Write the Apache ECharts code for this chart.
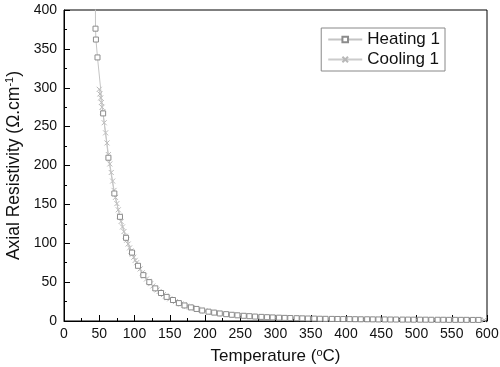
<!DOCTYPE html>
<html><head><meta charset="utf-8">
<script src="https://cdn.jsdelivr.net/npm/echarts@6/dist/echarts.min.js"></script>
<style>html,body{margin:0;padding:0;background:#fff}#c{width:500px;height:367px}</style>
</head><body><div id="c"></div>
<script>
const xTicks = [0,50,100,150,200,250,300,350,400,450,500,550,600];
const yTicks = [0,50,100,150,200,250,300,350,400];
const heatingT = [44.4,44.7,45.3,47.5,55.5,63,71.4,79.4,88,96.5,105,112.5,121,129.5,137.6,145.6,154.6,163,171,180,188,196,205,213,221,230,238,246,255,263,271,280,288,296,305,313,321,330,338,346,355,363,371,380,388,396,405,413,421,430,438,446,455,463,471,480,488,496,505,513,521,530,538,546,555,563,571,580,588];
const heatingR = [430,376,362,339,267,210,164,134,107,88,71,59,50,42,36,31,27,23,20,17.5,15.5,13.5,12,10.8,9.7,8.8,8,7.3,6.7,6.2,5.7,5.3,4.9,4.6,4.3,4.0,3.8,3.6,3.4,3.2,3.1,2.9,2.8,2.7,2.6,2.5,2.4,2.3,2.2,2.2,2.1,2.0,2.0,1.9,1.9,1.8,1.8,1.7,1.7,1.7,1.6,1.6,1.6,1.5,1.5,1.5,1.5,1.4,1.4];
const coolingT = [50,51,52,53,54,55,57,59,61,63,65,67,69,71,73,75,77,79,81,83,85,87,89,91,93,95,97,99,101,103,105,108,111,114,117,120,123,126,129,132,135,138,141,144,147,150,154,158,162,166,170,174,178,182,186,190,195,200,205,210,215,220,225,230,236,242,248,254,260,266,272,278,284,290,296,302,308,314,320,326,332,338,344,350,356,362,368,374,380,386,392,398,404,410,416,422,428,434,440,446,452,458,464,470,476,482,488,494,500,506,512,518,524,530,536,542,548,554,560,566,572,578,584,590,596];
const coolingR = [298,292,287,281,275,269,255,242,229,214,202,191,180,168,159,151,143,135,128,121,115,109,104,99,94,90,86,82,78,75,71,67,62,58,54,51,48,45,42,40,38,36,34,32,30,28.5,26.5,25,23.5,22,20.5,19,18,17,16,15,14,13,12,11.2,10.5,9.8,9.2,8.7,8.2,7.7,7.2,6.8,6.4,6.0,5.7,5.4,5.1,4.9,4.6,4.4,4.2,4.0,3.8,3.7,3.5,3.4,3.3,3.2,3.1,3.0,2.9,2.8,2.7,2.6,2.6,2.5,2.4,2.4,2.3,2.3,2.2,2.2,2.1,2.1,2.0,2.0,1.9,1.9,1.9,1.8,1.8,1.8,1.7,1.7,1.7,1.6,1.6,1.6,1.6,1.5,1.5,1.5,1.5,1.4,1.4,1.4,1.4,1.4,1.3];

const zip = (a,b)=>a.map((v,i)=>[v,b[i]]);
const FONT = 'Liberation Sans';
const cross = 'path://M0,0L10,10M10,0L0,10';
const supStyle = {fontSize:11,verticalAlign:'top',padding:[0,0,8,0],fontFamily:FONT,color:'#111'};
const chart = echarts.init(document.getElementById('c'), null, {renderer:'canvas'});
chart.setOption({
  animation:false,
  backgroundColor:'#fff',
  textStyle:{fontFamily:FONT},
  grid:{left:64,right:13,top:10,bottom:46,containLabel:false,outerBoundsMode:'none',show:true,borderColor:'#000',borderWidth:1,backgroundColor:'transparent'},
  legend:{
    right:55, top:28, orient:'vertical', itemGap:3, itemWidth:34, itemHeight:7,
    borderColor:'#888', borderWidth:1, padding:[3,5,3,6], backgroundColor:'#fff',
    textStyle:{fontFamily:FONT,fontSize:17,color:'#111'},
    data:[{name:'Heating 1'},{name:'Cooling 1'}]
  },
  xAxis:{
    type:'value', min:xTicks[0], max:xTicks[xTicks.length-1], interval:50,
    name:'Temperature ({sup|o}C)', nameLocation:'middle', nameGap:26,
    nameTextStyle:{fontFamily:FONT,fontSize:17,color:'#111',rich:{sup:supStyle}},
    axisLine:{lineStyle:{color:'#000',width:1}},
    axisTick:{inside:true,length:6,lineStyle:{color:'#000'}},
    minorTick:{show:true,splitNumber:2,length:3,lineStyle:{color:'#000'}},
    axisLabel:{fontFamily:FONT,fontSize:14,color:'#111',margin:6},
    splitLine:{show:false}
  },
  yAxis:{
    type:'value', min:yTicks[0], max:yTicks[yTicks.length-1], interval:50,
    name:'Axial Resistivity (Ω.cm{sup|-1})', nameLocation:'middle', nameGap:37,
    nameTextStyle:{fontFamily:FONT,fontSize:17.5,color:'#111',rich:{sup:supStyle}},
    axisLine:{show:true,lineStyle:{color:'#000',width:1}},
    axisTick:{inside:true,length:6,lineStyle:{color:'#000'}},
    minorTick:{show:true,splitNumber:2,length:3,lineStyle:{color:'#000'}},
    axisLabel:{fontFamily:FONT,fontSize:14,color:'#111',margin:7},
    splitLine:{show:false}
  },
  series:[
    {name:'Cooling 1',type:'line',data:zip(coolingT,coolingR),symbol:cross,symbolSize:5,showAllSymbol:true,clip:true,
     lineStyle:{color:'#ccc',width:1},itemStyle:{color:'none',borderColor:'#b8b8b8',borderWidth:1},z:2},
    {name:'Heating 1',type:'line',data:zip(heatingT,heatingR),symbol:'rect',symbolSize:5,showAllSymbol:true,clip:true,
     lineStyle:{color:'#c4c4c4',width:1},itemStyle:{color:'#fff',borderColor:'#8c8c8c',borderWidth:1},z:3}
  ]
});
</script></body></html>
